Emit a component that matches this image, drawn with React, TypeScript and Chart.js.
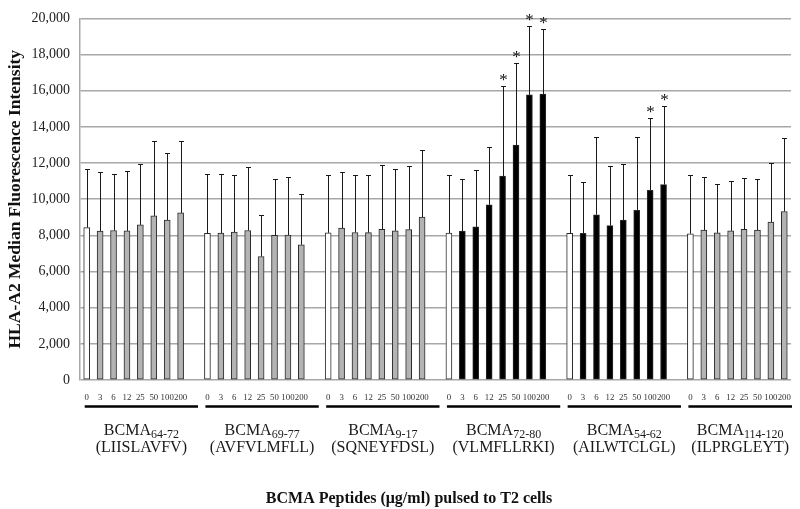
import React, { useEffect, useRef } from 'react';
import { Chart, registerables } from 'chart.js';

Chart.register(...registerables);

// ---- data ----
const concentrations = ['0', '3', '6', '12', '25', '50', '100', '200'];
const peptideRanges = ['64-72', '69-77', '9-17', '72-80', '54-62', '114-120'];
const peptideSequences = ['(LIISLAVFV)', '(AVFVLMFLL)', '(SQNEYFDSL)', '(VLMFLLRKI)', '(AILWTCLGL)', '(ILPRGLEYT)'];

const mean64_72 = [8430, 8230, 8270, 8250, 8580, 9080, 8850, 9240];
const sd64_72 = [3250, 3270, 3100, 3300, 3350, 4160, 3690, 3990];

const mean69_77 = [8110, 8130, 8180, 8270, 6830, 8000, 8020, 7480];
const sd69_77 = [3260, 3290, 3140, 3500, 2270, 3120, 3220, 2790];

const mean9_17 = [8140, 8400, 8160, 8150, 8340, 8250, 8320, 9010];
const sd9_17 = [3180, 3080, 3160, 3170, 3570, 3410, 3520, 3710];

const mean72_80 = [8130, 8230, 8470, 9690, 11280, 12990, 15770, 15820];
const sd72_80 = [3190, 2910, 3130, 3190, 4990, 4540, 3800, 3600];

const mean54_62 = [8110, 8110, 9140, 8540, 8850, 9390, 10490, 10810];
const sd54_62 = [3210, 2830, 4300, 3280, 3110, 4030, 4010, 4360];

const mean114_120 = [8090, 8290, 8140, 8250, 8340, 8290, 8740, 9320];
const sd114_120 = [3230, 2920, 2710, 2780, 2810, 2830, 3240, 4090];

const sig64_72 = [false, false, false, false, false, false, false, false];
const sig69_77 = [false, false, false, false, false, false, false, false];
const sig9_17 = [false, false, false, false, false, false, false, false];
const sig72_80 = [false, false, false, false, true, true, true, true];
const sig54_62 = [false, false, false, false, false, false, true, true];
const sig114_120 = [false, false, false, false, false, false, false, false];

const highlightedGroups = [false, false, false, true, true, false];

const yMax = 20000;
const yStep = 2000;

// ---- styles ----
const SERIF = '"Liberation Serif", "Times New Roman", Times, serif';
const WHITE = '#ffffff';
const GREY = '#b3b3b3';
const BLACK = '#000000';
const GRID = '#a8a8a8';

// ---- build the category table ----
const groupMeans = [mean64_72, mean69_77, mean9_17, mean72_80, mean54_62, mean114_120];
const groupSds = [sd64_72, sd69_77, sd9_17, sd72_80, sd54_62, sd114_120];
const groupSig = [sig64_72, sig69_77, sig9_17, sig72_80, sig54_62, sig114_120];
const SLOTS = concentrations.length + 1;

const labels: string[] = [];
const values: (number | null)[] = [];
const errors: (number | null)[] = [];
const stars: boolean[] = [];
const fills: string[] = [];
groupMeans.forEach((means, g) => {
  means.forEach((v, i) => {
    labels.push(concentrations[i]);
    values.push(v);
    errors.push(groupSds[g][i]);
    stars.push(groupSig[g][i]);
    fills.push(i === 0 ? WHITE : highlightedGroups[g] ? BLACK : GREY);
  });
  if (g < groupMeans.length - 1) {
    labels.push('');
    values.push(null);
    errors.push(null);
    stars.push(false);
    fills.push(WHITE);
  }
});

const annotationPlugin = {
  id: 'annotations',
  afterDatasetsDraw(chart: any) {
    const { ctx } = chart;
    const yScale = chart.scales.y;
    const meta = chart.getDatasetMeta(0);
    ctx.save();
    ctx.strokeStyle = '#1a1a1a';
    ctx.lineWidth = 1;
    meta.data.forEach((el: any, i: number) => {
      const v = values[i];
      const e = errors[i];
      if (v == null || e == null) return;
      const x = Math.round(el.x) + 0.5;
      const yBar = el.y;
      const yTop = Math.round(yScale.getPixelForValue(v + e)) + 0.5;
      ctx.beginPath();
      ctx.moveTo(x, yBar);
      ctx.lineTo(x, yTop);
      ctx.moveTo(x - 2.5, yTop);
      ctx.lineTo(x + 2.5, yTop);
      ctx.stroke();
      if (stars[i]) {
        ctx.fillStyle = '#111';
        ctx.font = `17px ${SERIF}`;
        ctx.textAlign = 'center';
        ctx.textBaseline = 'alphabetic';
        ctx.fillText('*', x, yTop - 2);
      }
    });
    ctx.restore();
  },
  afterDraw(chart: any) {
    const { ctx, chartArea } = chart;
    const xScale = chart.scales.x;
    ctx.save();
    peptideRanges.forEach((range, g) => {
      const start = xScale.getPixelForValue(g * SLOTS) - 2;
      const end = Math.min(xScale.getPixelForValue(g * SLOTS + SLOTS - 1) + 4, chartArea.right + 1);
      ctx.strokeStyle = '#000';
      ctx.lineWidth = 2.5;
      ctx.beginPath();
      ctx.moveTo(start, 406.5);
      ctx.lineTo(end, 406.5);
      ctx.stroke();
      const cx = (start + end) / 2;
      ctx.fillStyle = '#1a1a1a';
      ctx.textBaseline = 'alphabetic';
      ctx.font = `16px ${SERIF}`;
      const mainW = ctx.measureText('BCMA').width;
      ctx.font = `12px ${SERIF}`;
      const subW = ctx.measureText(range).width;
      const x0 = cx - (mainW + subW) / 2;
      ctx.textAlign = 'left';
      ctx.font = `16px ${SERIF}`;
      ctx.fillText('BCMA', x0, 434.5);
      ctx.font = `12px ${SERIF}`;
      ctx.fillText(range, x0 + mainW, 437.5);
      ctx.textAlign = 'center';
      ctx.font = `16px ${SERIF}`;
      ctx.fillText(peptideSequences[g], cx, 451.5);
    });
    ctx.font = `bold 16px ${SERIF}`;
    ctx.textAlign = 'center';
    ctx.fillStyle = '#111';
    ctx.fillText('BCMA Peptides (\u03bcg/ml) pulsed to T2 cells', chart.width / 2 + 9, 503);
    ctx.restore();
  },
};

export default function App() {
  const canvasRef = useRef<HTMLCanvasElement | null>(null);

  useEffect(() => {
    document.body.style.margin = '0';
    const canvas = canvasRef.current;
    if (!canvas) return;
    const chart = new Chart(canvas, {
      type: 'bar',
      data: {
        labels,
        datasets: [
          {
            data: values,
            backgroundColor: fills,
            borderColor: '#2a2a2a',
            borderWidth: 1,
            borderSkipped: false,
            barThickness: 6,
          },
        ],
      },
      options: {
        animation: false,
        responsive: false,
        devicePixelRatio: 1,
        layout: { padding: { top: 10, right: 9, left: 0, bottom: 0 } },
        plugins: {
          legend: { display: false },
          tooltip: { enabled: false },
        },
        scales: {
          x: {
            grid: { display: false },
            border: { display: false },
            ticks: {
              autoSkip: false,
              maxRotation: 0,
              minRotation: 0,
              font: { family: SERIF, size: 8.8 },
              color: '#333',
              padding: 4,
            },
            afterFit: (s: any) => {
              s.height = 129;
            },
          },
          y: {
            min: 0,
            max: yMax,
            ticks: {
              stepSize: yStep,
              callback: (v: any) => Number(v).toLocaleString('en-US'),
              font: { family: SERIF, size: 14 },
              color: '#222',
              padding: 10,
            },
            grid: { color: GRID, lineWidth: 1.5, drawTicks: false },
            border: { color: GRID, width: 1.5 },
            title: {
              display: true,
              text: 'HLA-A2 Median Fluorescence Intensity',
              font: { family: SERIF, size: 17.5, weight: 'bold' },
              color: '#111',
              padding: { top: 5, bottom: 0 },
            },
            afterFit: (s: any) => {
              s.width = 80;
            },
          },
        },
      },
      plugins: [annotationPlugin],
    } as any);
    return () => chart.destroy();
  }, []);

  return (
    <div style={{ width: 800, height: 509 }}>
      <canvas ref={canvasRef} width={800} height={509} style={{ display: 'block' }} />
    </div>
  );
}
